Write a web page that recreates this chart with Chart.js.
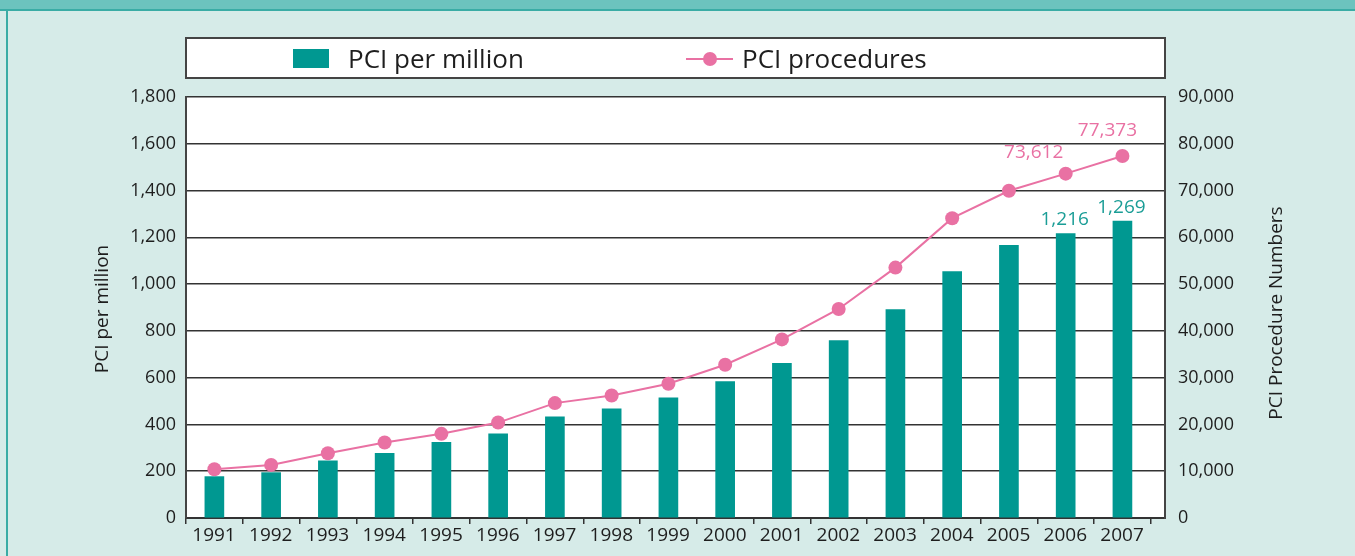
<!DOCTYPE html>
<html>
<head>
<meta charset="utf-8">
<script src="https://cdn.jsdelivr.net/npm/chart.js@4"></script>
<style>
  body { margin: 0; background: #d6ebe8; }
  .frame { position: relative; width: 1355px; height: 556px; background: #d6ebe8; overflow: hidden; }
  .strip { position: absolute; left: 0; top: 0; width: 1355px; height: 9px; background: #6cc3be; border-bottom: 2px solid #3aaca5; }
  .side { position: absolute; left: 6px; top: 9px; width: 2px; height: 547px; background: #3aaca5; }
  canvas { position: absolute; left: 0; top: 0; }
</style>
</head>
<body>
<div class="frame">
  <div class="strip"></div>
  <div class="side"></div>
  <canvas id="pciChart" width="1355" height="556"></canvas>
</div>
<script>
// Datos
const years = [1991, 1992, 1993, 1994, 1995, 1996, 1997, 1998, 1999, 2000, 2001, 2002, 2003, 2004, 2005, 2006, 2007];
const pciPerMillion = [177, 194, 244, 276, 323, 360, 433, 467, 514, 583, 661, 759, 891, 1054, 1166, 1216, 1269];
const pciProcedures = [10430, 11350, 13850, 16130, 17990, 20400, 24560, 26190, 28690, 32760, 38180, 44690, 53530, 64090, 69960, 73612, 77373];
const labelledYears = [2006, 2007];

const TEAL = "#009891";
const PINK = "#e971a3";
const TEXT = "#1e1e1e";

Chart.defaults.font.family = "'Open Sans', 'Noto Sans', sans-serif";

// fondo blanco, leyenda, titulos de ejes y etiquetas de valores
const decorPlugin = {
  id: "decor",
  beforeDraw(chart) {
    const { ctx, chartArea: a } = chart;
    ctx.save();
    ctx.fillStyle = "#fff";
    ctx.fillRect(a.left, a.top, a.right - a.left, a.bottom - a.top);

    // leyenda
    ctx.fillRect(a.left, 38, a.right - a.left, 40);
    ctx.strokeStyle = "#444";
    ctx.lineWidth = 2;
    ctx.strokeRect(a.left, 38, a.right - a.left, 40);

    ctx.fillStyle = TEAL;
    ctx.fillRect(293, 49, 36, 19);
    ctx.strokeStyle = PINK;
    ctx.lineWidth = 2;
    ctx.beginPath();
    ctx.moveTo(686, 59);
    ctx.lineTo(733, 59);
    ctx.stroke();
    ctx.fillStyle = PINK;
    ctx.beginPath();
    ctx.arc(710, 59, 7, 0, Math.PI * 2);
    ctx.fill();

    ctx.fillStyle = TEXT;
    ctx.font = "26px 'Open Sans'";
    ctx.textBaseline = "alphabetic";
    ctx.textAlign = "left";
    ctx.fillText(chart.data.datasets[1].label, 348, 68);
    ctx.fillText(chart.data.datasets[0].label, 742, 68);

    // titulos de ejes
    ctx.font = "19px 'Open Sans'";
    ctx.textAlign = "center";
    ctx.textBaseline = "middle";
    ctx.save();
    ctx.translate(103, 309);
    ctx.rotate(-Math.PI / 2);
    ctx.fillText("PCI per million", 0, 0);
    ctx.restore();
    ctx.save();
    ctx.translate(1277, 313);
    ctx.rotate(-Math.PI / 2);
    ctx.fillText("PCI Procedure Numbers", 0, 0);
    ctx.restore();
    ctx.restore();
  },
  afterDatasetsDraw(chart) {
    const { ctx } = chart;
    const lineMeta = chart.getDatasetMeta(0);
    const barMeta = chart.getDatasetMeta(1);
    const lineOffsets = { 2006: [-32, -21], 2007: [-15, -25] };
    ctx.save();
    ctx.font = "19px 'Open Sans'";
    ctx.textAlign = "center";
    ctx.textBaseline = "middle";
    labelledYears.forEach((yr) => {
      const i = years.indexOf(yr);
      const pt = lineMeta.data[i];
      const bar = barMeta.data[i];
      ctx.fillStyle = PINK;
      ctx.fillText(pciProcedures[i].toLocaleString("en-US"), pt.x + lineOffsets[yr][0], pt.y + lineOffsets[yr][1]);
      ctx.fillStyle = "#1a9d96";
      ctx.fillText(pciPerMillion[i].toLocaleString("en-US"), bar.x - 1, bar.y - 14);
    });
    ctx.restore();
  },
};

new Chart(document.getElementById("pciChart"), {
  type: "bar",
  data: {
    datasets: [
      {
        type: "line",
        label: "PCI procedures",
        data: years.map((y, i) => ({ x: y, y: pciProcedures[i] })),
        yAxisID: "y1",
        borderColor: PINK,
        backgroundColor: PINK,
        borderWidth: 2,
        pointRadius: 7,
        pointHoverRadius: 7,
        pointBorderWidth: 0,
        tension: 0,
        order: 0,
      },
      {
        label: "PCI per million",
        data: years.map((y, i) => ({ x: y, y: pciPerMillion[i] })),
        yAxisID: "y",
        backgroundColor: TEAL,
        barThickness: 19,
        order: 1,
      },
    ],
  },
  options: {
    responsive: false,
    animation: false,
    layout: { padding: { top: 97, left: 0, right: 0, bottom: 0 } },
    plugins: {
      legend: { display: false },
      tooltip: { enabled: false },
    },
    scales: {
      x: {
        type: "linear",
        offset: false,
        min: 1990.5,
        max: 2007.75,
        afterBuildTicks: (s) => {
          s.ticks = years.map((y) => ({ value: y - 0.5 })).concat([{ value: 2007.5 }]);
        },
        afterFit: (s) => {
          s.height = 38;
        },
        grid: { offset: false, drawOnChartArea: false, tickLength: 6, color: "#333", lineWidth: 1.5 },
        border: { color: "#333", width: 2 },
        ticks: {
          labelOffset: 28,
          padding: 0,
          maxRotation: 0,
          autoSkip: false,
          color: TEXT,
          font: { size: 19 },
          callback: (v) => (v < 2007 ? String(v + 0.5) : ""),
        },
      },
      y: {
        position: "left",
        min: 0,
        max: 1800,
        afterFit: (s) => {
          s.width = 186;
        },
        grid: { color: "#333", lineWidth: 1.5, drawTicks: false },
        border: { color: "#444", width: 2 },
        ticks: {
          stepSize: 200,
          padding: 10,
          color: TEXT,
          font: { size: 18 },
          callback: (v) => v.toLocaleString("en-US"),
        },
      },
      y1: {
        position: "right",
        min: 0,
        max: 90000,
        afterFit: (s) => {
          s.width = 190;
        },
        grid: { drawOnChartArea: false, drawTicks: false },
        border: { color: "#444", width: 2 },
        ticks: {
          stepSize: 10000,
          padding: 13,
          color: TEXT,
          font: { size: 18 },
          callback: (v) => v.toLocaleString("en-US"),
        },
      },
    },
  },
  plugins: [decorPlugin],
});
</script>
</body>
</html>
